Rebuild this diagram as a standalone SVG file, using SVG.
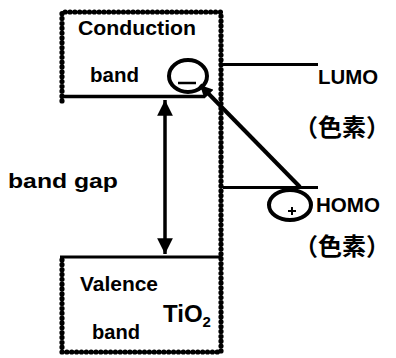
<svg xmlns="http://www.w3.org/2000/svg" width="396" height="358" viewBox="0 0 396 358">
<style>
.t{font-family:"Liberation Sans",Arial,sans-serif;font-weight:bold;font-size:20.7px;fill:#000}
.j{font-family:"Noto Sans CJK JP",sans-serif;font-weight:bold;font-size:24px;fill:#000}
.ln{stroke:#000;fill:none}
.dot{stroke:#000;fill:none;stroke-width:5.2;stroke-linecap:round;stroke-dasharray:0.1 4.75}
</style>
<defs>
<marker id="ah" viewBox="0 0 10 10" refX="10" refY="5" markerWidth="4.5" markerHeight="4.5" orient="auto-start-reverse" markerUnits="strokeWidth">
<path d="M0,0 L10,5 L0,10 Z" fill="#000"/>
</marker>
<marker id="ah2" viewBox="0 0 10 10" refX="10" refY="5" markerWidth="3.2" markerHeight="3.2" orient="auto" markerUnits="strokeWidth">
<path d="M0,0 L10,5 L0,10 Z" fill="#000"/>
</marker>
</defs>
<g id="tio2">
<path class="dot" d="M62,101 L62,12 L221,12 L221,352 L62,352 L62,259"/>
<text class="t" x="78" y="35" textLength="118" lengthAdjust="spacingAndGlyphs">Conduction</text>
<text class="t" x="90" y="82" textLength="49" lengthAdjust="spacingAndGlyphs">band</text>
<text class="t" x="80" y="291" textLength="78" lengthAdjust="spacingAndGlyphs">Valence</text>
<text class="t" x="92" y="339" textLength="48" lengthAdjust="spacingAndGlyphs">band</text>
<text class="t" x="163" y="322" style="font-size:24px">TiO<tspan style="font-size:15px" dy="5">2</tspan></text>
</g>
<g id="levels">
<path class="ln" stroke-width="3.5" d="M60,96.5 L205,96.5"/>
<path class="ln" stroke-width="3" d="M60,257 L220,257"/>
<path class="ln" stroke-width="3" d="M223,64.5 L318,64.5"/>
<path class="ln" stroke-width="3" d="M223,187.5 L318,187.5"/>
</g>
<g id="dye">
<text class="t" x="318" y="84" textLength="60" lengthAdjust="spacingAndGlyphs">LUMO</text>
<text class="j" x="294" y="136">（色素）</text>
<text class="t" x="316" y="212" textLength="64" lengthAdjust="spacingAndGlyphs">HOMO</text>
<text class="j" x="294" y="255">（色素）</text>
</g>
<g id="electron">
<ellipse class="ln" stroke-width="4" cx="188" cy="76" rx="19" ry="16"/>
<path class="ln" stroke-width="2.5" d="M178,83 L196,83"/>
</g>
<g id="hole">
<ellipse class="ln" stroke-width="4" cx="290" cy="205" rx="21" ry="15"/>
<path class="ln" stroke-width="2" d="M288,211 L296,211 M292,207 L292,215"/>
</g>
<g id="connectors">
<path class="ln" stroke-width="4" d="M300,187 L200,85" marker-end="url(#ah2)"/>
<path class="ln" stroke-width="3.5" d="M165,100 L165,254" marker-start="url(#ah)" marker-end="url(#ah)"/>
</g>
<text class="t" x="8" y="188" textLength="110" lengthAdjust="spacingAndGlyphs">band gap</text>
</svg>
